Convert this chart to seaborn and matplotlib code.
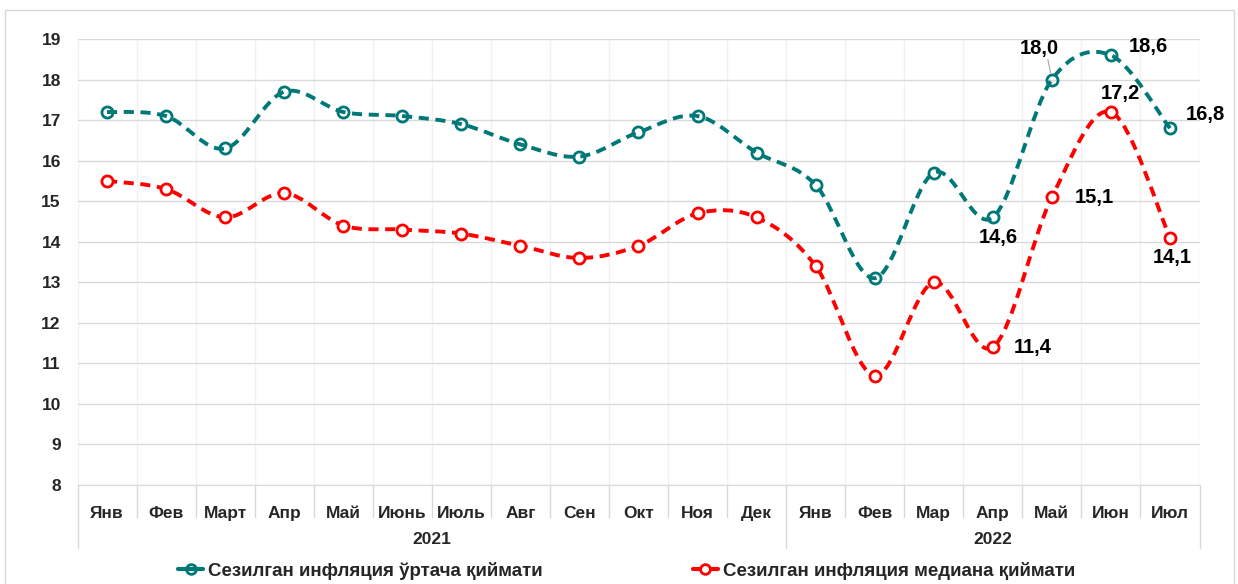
import matplotlib
matplotlib.use("Agg")
import matplotlib.pyplot as plt
import seaborn as sns
import numpy as np
from matplotlib.path import Path
from matplotlib.patches import PathPatch, Rectangle
from matplotlib.lines import Line2D

# ---------------------------------------------------------------------------
# Data
# ---------------------------------------------------------------------------
months = ["Янв", "Фев", "Март", "Апр", "Май", "Июнь", "Июль", "Авг", "Сен", "Окт", "Ноя", "Дек",
          "Янв", "Фев", "Мар", "Апр", "Май", "Июн", "Июл"]
years = ["2021", "2022"]
months_per_year = [12, 7]

avg_values = [17.2, 17.1, 16.3, 17.7, 17.2, 17.1, 16.9, 16.4, 16.1, 16.7, 17.1, 16.2,
              15.4, 13.1, 15.7, 14.6, 18.0, 18.6, 16.8]
median_values = [15.5, 15.3, 14.6, 15.2, 14.4, 14.3, 14.2, 13.9, 13.6, 13.9, 14.7, 14.6,
                 13.4, 10.7, 13.0, 11.4, 15.1, 17.2, 14.1]

avg_label = "Сезилган инфляция ўртача қиймати"
median_label = "Сезилган инфляция медиана қиймати"

# which points get a value label, and where it sits (offset in pixels)
avg_labelled = {15: (5, -20), 16: (-13, 31), 17: (37, 9), 18: (35, 14)}
median_labelled = {15: (40, 0), 16: (42, 0), 17: (9, 18), 18: (2, -20)}

TEAL = "#007878"
RED = "#FF0000"
GRID = "#D9D9D9"

# ---------------------------------------------------------------------------
# Style
# ---------------------------------------------------------------------------
sns.set_style("white")
plt.rcParams["font.family"] = ["Liberation Sans", "DejaVu Sans"]
plt.rcParams["font.weight"] = "bold"

fig = plt.figure(figsize=(12.38, 5.84), dpi=100)
ax = fig.add_axes([77.5 / 1238, 1 - 485 / 584, (1199.5 - 77.5) / 1238, 446 / 584])

x = np.arange(len(months))


def smooth_path(xs, ys):
    # Excel-like smoothed line: Catmull-Rom segments as cubic Bezier curves
    pts = np.column_stack([xs, ys]).astype(float)
    padded = np.vstack([pts[0], pts, pts[-1]])
    verts = [pts[0]]
    codes = [Path.MOVETO]
    for i in range(len(pts) - 1):
        p0, p1, p2, p3 = padded[i], padded[i + 1], padded[i + 2], padded[i + 3]
        c1 = p1 + (p2 - p0) / 6.0
        c2 = p2 - (p3 - p1) / 6.0
        verts += [c1, c2, p2]
        codes += [Path.CURVE4] * 3
    return Path(verts, codes)


for vals, color, face in [(avg_values, TEAL, "none"), (median_values, RED, "white")]:
    patch = PathPatch(smooth_path(x, vals), fill=False, edgecolor=color, lw=2.8,
                      linestyle=(0, (2.6, 1.7)), capstyle="butt", zorder=2)
    ax.add_patch(patch)
    sns.lineplot(x=x, y=vals, ax=ax, linestyle="none", marker="o", markersize=8,
                 markerfacecolor=face, markeredgecolor=color, markeredgewidth=2,
                 zorder=3, legend=False)


def fmt(v):
    return f"{v:.1f}".replace(".", ",")


for vals, labelled in [(avg_values, avg_labelled), (median_values, median_labelled)]:
    for i, off in labelled.items():
        ax.annotate(fmt(vals[i]), (x[i], vals[i]), xytext=off, textcoords="offset pixels",
                    ha="center", va="center", fontsize=14.5, fontweight="bold", color="black",
                    zorder=4)

# leader line for the 18,0 label
ax.annotate("", (x[16], avg_values[16]), xytext=(-4, 20), textcoords="offset pixels",
            arrowprops=dict(arrowstyle="-", color="#A6A6A6", lw=0.8, shrinkA=0, shrinkB=5))

# ---------------------------------------------------------------------------
# Axes
# ---------------------------------------------------------------------------
ax.set_xlim(-0.5, len(months) - 0.5)
ax.set_ylim(8, 19)
ax.set_yticks(range(8, 20))
ax.tick_params(axis="y", length=0, pad=12, labelsize=12.5)
for lab in ax.get_yticklabels():
    lab.set_fontweight("bold")

ax.set_xticks(x)
ax.set_xticklabels(months, fontsize=12.5, fontweight="bold")
ax.tick_params(axis="x", length=0, pad=15)

boundaries = np.arange(len(months) + 1) - 0.5
ax.set_xticks(boundaries, minor=True)
ax.tick_params(axis="x", which="minor", length=0)
ax.grid(axis="y", color=GRID, lw=1)
ax.grid(axis="x", which="minor", color="#F2F2F2", lw=1)
ax.grid(axis="x", which="major", visible=False)

for side in ["top", "right", "left"]:
    ax.spines[side].set_visible(False)
ax.spines["bottom"].set_color(GRID)

# category separators below the axis
trans = ax.get_xaxis_transform()
for b in boundaries:
    ax.plot([b, b], [0, -0.072], transform=trans, color=GRID, lw=1, clip_on=False)

start = -0.5
year_edges = [start]
for yr, n in zip(years, months_per_year):
    ax.text(start + n / 2, -0.123, yr, transform=trans, ha="center", va="center",
            fontsize=12.5, fontweight="bold")
    start += n
    year_edges.append(start)
for b in year_edges:
    ax.plot([b, b], [-0.072, -0.141], transform=trans, color=GRID, lw=1, clip_on=False)

# ---------------------------------------------------------------------------
# Legend and frame
# ---------------------------------------------------------------------------
handles = [
    Line2D([], [], color=TEAL, lw=3, marker="o", markersize=7, markerfacecolor="none",
           markeredgecolor=TEAL, markeredgewidth=2),
    Line2D([], [], color=RED, lw=3, marker="o", markersize=7, markerfacecolor="white",
           markeredgecolor=RED, markeredgewidth=2),
]
fig.legend(handles, [avg_label, median_label], loc="center", bbox_to_anchor=(0.506, 1 - 571 / 584),
           ncol=2, frameon=False, handlelength=1.35, handletextpad=0.25, columnspacing=8.0,
           prop={"size": 13.5, "weight": "bold"})

fig.patches.append(Rectangle((5 / 1238, -0.05), 1229 / 1238, 1.05 - 10 / 584,
                             transform=fig.transFigure, fill=False, edgecolor=GRID, lw=1))

fig.savefig("out.png", dpi=100)
